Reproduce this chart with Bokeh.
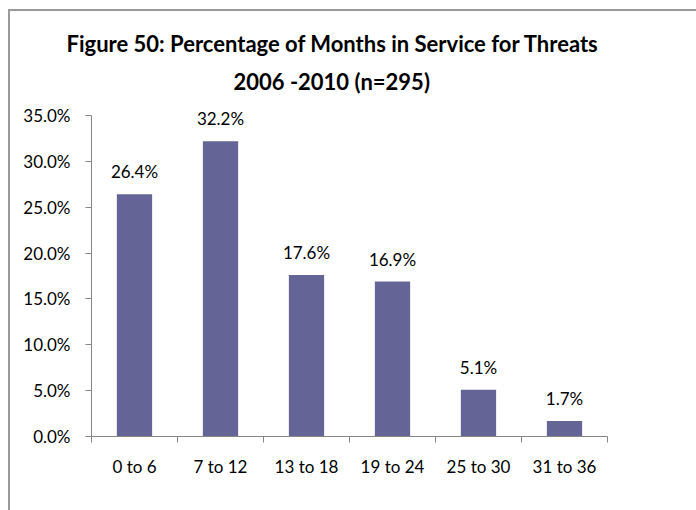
from bokeh.plotting import figure
from bokeh.models import ColumnDataSource, FixedTicker, Range1d, PrintfTickFormatter, LabelSet, Title
from bokeh.core.properties import value
from bokeh.embed import file_html
from bokeh.resources import INLINE

categories = ["0 to 6", "7 to 12", "13 to 18", "19 to 24", "25 to 30", "31 to 36"]
percentages = [26.4, 32.2, 17.6, 16.9, 5.1, 1.7]
y_ticks = [0, 5, 10, 15, 20, 25, 30, 35]
title_lines = ["Figure 50:  Percentage of Months in Service  for Threats", "2006 -2010 (n=295)"]

FONT = "Lato"
AXIS_COLOR = "#868686"
BAR_COLOR = "#646496"
BORDER = "#9a9a9a"

# layout (pixels)
W, H = 696, 510
FRAME_L, FRAME_R, FRAME_B = 91, 607, 436
AXIS_TOP = 115        # where the top tick sits
FRAME_T = 100         # frame extends a little above the axis so top value labels are not clipped

y_max = y_ticks[-1] * (FRAME_B - FRAME_T) / (FRAME_B - AXIS_TOP)

centers = [i + 0.5 for i in range(len(categories))]
src = ColumnDataSource(dict(x=centers, top=percentages,
                            label=[f"{v:.1f}%" for v in percentages]))

p = figure(width=W, height=H, output_backend="svg", toolbar_location=None, title=None,
           x_range=Range1d(0, len(categories)), y_range=Range1d(0, y_max),
           min_border_left=FRAME_L, min_border_right=W - FRAME_R,
           min_border_top=FRAME_T, min_border_bottom=H - FRAME_B)
p.border_fill_color = None
p.background_fill_color = None
p.styles = {
    "background": (f"linear-gradient({BORDER},{BORDER}) 8px 9px / 2px 100% no-repeat, "
                   f"linear-gradient({BORDER},{BORDER}) 8px 9px / 100% 2px no-repeat, white"),
}

# title: two lines, left aligned with offsets so that each is centred near x=332
for line, off, so in zip(reversed(title_lines), [142, -25], [12, 6]):
    p.add_layout(Title(text=line, align="left", offset=off, standoff=so,
                       text_font=FONT, text_font_size="22px", text_font_style="bold",
                       text_color="black"), "above")

p.vbar(x="x", top="top", bottom=0, width=0.41, source=src,
       fill_color=BAR_COLOR, line_color=None)

labels = LabelSet(x="x", y="top", text="label", source=src, text_align="center",
                  text_baseline="alphabetic", y_offset=16, text_font=value(FONT),
                  text_font_size="17px", text_color="black")
p.add_layout(labels)

p.xgrid.visible = False
p.ygrid.visible = False
p.outline_line_color = None

xa = p.xaxis[0]
xa.ticker = FixedTicker(ticks=centers, minor_ticks=list(range(len(categories) + 1)))
xa.major_label_overrides = {c: cat for c, cat in zip(centers, categories)}
xa.major_tick_line_color = None
xa.major_tick_out = 0
xa.major_tick_in = 0
xa.minor_tick_line_color = AXIS_COLOR
xa.minor_tick_out = 6
xa.minor_tick_in = 0
xa.axis_line_color = AXIS_COLOR
xa.major_label_standoff = 13
xa.major_label_text_font = FONT
xa.major_label_text_font_size = "17px"
xa.major_label_text_color = "black"

ya = p.yaxis[0]
ya.ticker = FixedTicker(ticks=y_ticks)
ya.bounds = (0, y_ticks[-1])
ya.formatter = PrintfTickFormatter(format="%.1f%%")
ya.major_tick_line_color = AXIS_COLOR
ya.major_tick_out = 6
ya.major_tick_in = 0
ya.minor_tick_line_color = None
ya.axis_line_color = AXIS_COLOR
ya.major_label_standoff = 15
ya.major_label_text_font = FONT
ya.major_label_text_font_size = "17px"
ya.major_label_text_color = "black"

open("out.html", "w").write(file_html(p, INLINE))
